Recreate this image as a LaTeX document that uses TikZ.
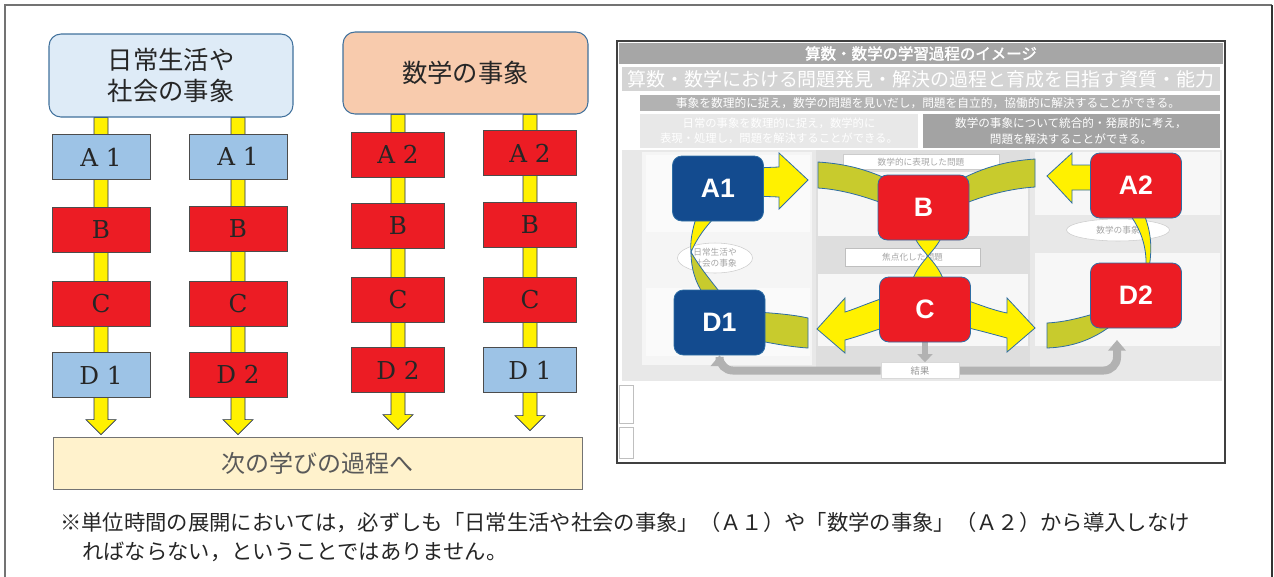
\documentclass[tikz,border=0pt]{standalone}
\usepackage{fontspec}
\usetikzlibrary{calc,arrows.meta,shapes.geometric}
\newfontfamily\jp{Noto Sans CJK JP}
\newfontfamily\jpbold{Noto Sans CJK JP}[FakeBold=2]
\newfontfamily\arl{Liberation Sans}
\newfontfamily\srf{DejaVu Serif}
\definecolor{cred}{HTML}{EC1C24}
\definecolor{clblue}{HTML}{9DC3E6}
\definecolor{cyel}{HTML}{FFF100}
\definecolor{cbarline}{HTML}{1F2D55}
\definecolor{ctop1}{HTML}{DEEBF7}
\definecolor{ctop2}{HTML}{F8CBAD}
\definecolor{ctopline}{HTML}{41719C}
\definecolor{cnext}{HTML}{FFF2CC}
\definecolor{cdblue}{HTML}{134B8F}
\definecolor{colive}{HTML}{C8CB2D}
\definecolor{cout}{HTML}{2E6DA4}
\pgfdeclarelayer{bg}\pgfdeclarelayer{mid}
\pgfsetlayers{bg,mid,main}
\def\pxu{0.75pt}
\newcommand\ybararrow[2]{\draw[ybarsty] ($(#1)+(-7,0)$) -- ($(#1)+(7,0)$) -- ($(#2)+(7,-15)$) -- ($(#2)+(15,-15)$) -- (#2) -- ($(#2)+(-15,-15)$) -- ($(#2)+(-7,-15)$) -- cycle;}
\tikzset{
  every node/.style={inner sep=0pt},
  colbox/.style={draw=black!70, line width=0.5pt, minimum height=45*\pxu, font=\srf\fontsize{18.5}{18.5}\selectfont, text=black!85},
  wA/.style={minimum width=98*\pxu},
  wB/.style={minimum width=93*\pxu},
  rbox/.style={colbox, fill=cred},
  bbox/.style={colbox, fill=clblue},
  topbox/.style={rounded corners=9pt, draw=ctopline, line width=0.8pt, font=\jp\fontsize{19}{23}\selectfont, text=black!85, align=center},
  ybarsty/.style={fill=cyel, draw=cbarline, line width=0.5pt, line join=miter},
  ov/.style={rounded corners=7pt, draw=cout, line width=0.6pt, minimum width=91*\pxu, minimum height=65*\pxu, text=white, font=\arl\bfseries\fontsize{20}{20}\selectfont},
  ovy/.style={fill=cyel, draw=cout, line width=0.6pt},
  ovo/.style={fill=colive, draw=cout, line width=0.6pt},
  gl/.style={draw=black!30, line width=8*\pxu},
  faint/.style={font=\jp\fontsize{6.5}{8}\selectfont, text=black!35, align=center},
}
\begin{document}
\begin{tikzpicture}[x=0.75pt,y=-0.75pt]
\useasboundingbox (0,0) rectangle (1274,576);
% outer frame
\draw[black!55, line width=0.8pt] (5,590) -- (5,5) -- (1272,5);
\draw[black!80, line width=0.8pt] (1272,5) -- (1272,590);

% ---------------- left panel ----------------
\node[topbox, fill=ctop1, minimum width=244*\pxu, minimum height=83*\pxu] (top1) at (171,75.5) {日常生活や\\社会の事象};
\node[topbox, fill=ctop2, minimum width=245*\pxu, minimum height=82*\pxu] (top2) at (465.5,73) {数学の事象};

\node[bbox, wA] (c1a) at (101,157) {A 1};
\node[rbox, wA] (c1b) at (101,229.5) {B};
\node[rbox, wA] (c1c) at (101,303.5) {C};
\node[bbox, wA] (c1d) at (101,375) {D 1};

\node[bbox, wA] (c2a) at (238,156.5) {A 1};
\node[rbox, wA] (c2b) at (238,229) {B};
\node[rbox, wA] (c2c) at (238,304) {C};
\node[rbox, wA] (c2d) at (238,374.5) {D 2};

\node[rbox, wB] (c3a) at (398,154.5) {A 2};
\node[rbox, wB] (c3b) at (398,225.5) {B};
\node[rbox, wB] (c3c) at (398,300) {C};
\node[rbox, wB] (c3d) at (398,370) {D 2};

\node[rbox, wB] (c4a) at (530,153) {A 2};
\node[rbox, wB] (c4b) at (530,224.5) {B};
\node[rbox, wB] (c4c) at (530,299.5) {C};
\node[bbox, wB] (c4d) at (530,370) {D 1};

\node[draw=black!55, fill=cnext, line width=0.6pt, minimum width=529*\pxu, minimum height=52*\pxu, font=\jp\fontsize{18}{18}\selectfont, text=black!65] (next) at (317.5,463) {次の学びの過程へ};

\coordinate (t1) at (top1.south -| c1a);
\coordinate (t2) at (top1.south -| c2a);
\coordinate (t3) at (top2.south -| c3a);
\coordinate (t4) at (top2.south -| c4a);
\coordinate (e1) at ($(next.north -| c1a)+(0,-2)$);
\coordinate (e2) at ($(next.north -| c2a)+(0,-2)$);
\coordinate (e3) at ($(next.north -| c3a)+(0,-7)$);
\coordinate (e4) at ($(next.north -| c4a)+(0,-6)$);
\begin{pgfonlayer}{bg}
\ybararrow{t1}{e1}
\ybararrow{t2}{e2}
\ybararrow{t3}{e3}
\ybararrow{t4}{e4}
\end{pgfonlayer}

% ---------------- note ----------------
\node[anchor=west, font=\jp\fontsize{16}{16}\selectfont, text=black!85] (note1) at (60,522) {※単位時間の展開においては，必ずしも「日常生活や社会の事象」（Ａ１）や「数学の事象」（Ａ２）から導入しなけ};
\node[anchor=west, font=\jp\fontsize{16}{16}\selectfont, text=black!85] (note2) at (82,552) {ればならない，ということではありません。};

% ---------------- right panel ----------------
\begin{pgfonlayer}{bg}
\draw[draw=black!75, line width=1.2pt, fill=white] (617,41) rectangle (1225,463);
\fill[black!35] (619,43) rectangle (1223,64);
\node[text=white, font=\jpbold\fontsize{11.6}{12}\selectfont] (h1) at (921,53.5) {算数・数学の学習過程のイメージ};
\fill[black!17] (622,67) rectangle (1220,91);
\node[text=white, font=\jp\fontsize{14.2}{15}\selectfont] (h2) at (921,79) {算数・数学における問題発見・解決の過程と育成を目指す資質・能力};
\fill[black!30] (640,95) rectangle (1220,111);
\node[text=white, font=\jp\fontsize{8.8}{9}\selectfont] (h3) at (928,103) {事象を数理的に捉え，数学の問題を見いだし，問題を自立的，協働的に解決することができる。};
\fill[black!9] (640,114) rectangle (918,148);
\node[text=white, font=\jp\fontsize{8.5}{11.5}\selectfont, align=center] (h4) at (779,131) {日常の事象を数理的に捉え，数学的に\\表現・処理し，問題を解決することができる。};
\fill[black!36] (923,114) rectangle (1220,148);
\node[text=white, font=\jp\fontsize{8.7}{11.5}\selectfont, align=center] (h5) at (1071,131) {数学の事象について統合的・発展的に考え，\\問題を解決することができる。};
% main area
\fill[black!9] (622,150) rectangle (1222,381);
\fill[black!4] (642,152) rectangle (812,365);
\fill[black!2] (646,155) rectangle (810,232);
\fill[black!2] (646,288) rectangle (810,356);
\fill[black!13] (816,150) rectangle (1030,368);
\fill[black!3] (818,172) rectangle (1028,236);
\fill[black!3] (818,274) rectangle (1028,346);
\fill[black!3] (1035,152) rectangle (1220,215);
\fill[black!3] (1035,253) rectangle (1220,346);
\node[fill=white, draw=black!20, minimum width=156*\pxu, minimum height=15*\pxu, faint] (p1) at (921,162) {数学的に表現した問題};
\node[fill=white, draw=black!25, minimum width=135*\pxu, minimum height=18*\pxu, faint] (p2) at (912.5,257) {焦点化した問題};
\node[ellipse, fill=white, draw=black!20, minimum width=75*\pxu, minimum height=30*\pxu, faint] (cl1) at (715,258) {日常生活や\\社会の事象};
\node[ellipse, fill=white, draw=black!20, minimum width=103*\pxu, minimum height=22*\pxu, faint] (cl2) at (1118,230) {数学の事象};
\draw[black!25, line width=0.6pt] (619,385) rectangle (633,423);
\draw[black!25, line width=0.6pt] (619,427) rectangle (633,458);
\end{pgfonlayer}

% overlay boxes
\node[ov, fill=cdblue] (A1) at (718,188.5) {A1};
\node[ov, fill=cred] (B) at (923.5,207.5) {B};
\node[ov, fill=cred] (A2) at (1136,185.5) {A2};
\node[ov, fill=cdblue] (D1) at (719.5,322.5) {D1};
\node[ov, fill=cred] (C) at (925,309.5) {C};
\node[ov, fill=cred] (D2) at (1136,295.5) {D2};
\node[fill=white, draw=black!15, minimum width=78*\pxu, minimum height=16*\pxu, font=\jp\fontsize{7}{7}\selectfont, text=black!40] (res) at (920,370.5) {結果};
\coordinate (d2in) at (1117,340);

\begin{pgfonlayer}{mid}
% gray loop
\draw[gl, rounded corners=10pt, -{Triangle[length=8pt,width=13pt]}] (res.west) -| (D1.south);
\draw[gl, rounded corners=10pt, -{Triangle[length=8pt,width=13pt]}] (res.east) -| (d2in);
\draw[gl, line width=6*\pxu, -{Triangle[length=6pt,width=11pt]}] (C.south) -- (C.south |- res.north);
% A1 right arrow
\draw[ovy] (755,168) -- (779,167) -- (779,153) -- (808,180) -- (779,209) -- (779,197) -- (755,196) -- cycle;
% A2 left arrow
\draw[ovy] (1100,165) -- (1072,165) -- (1072,153) -- (1047,176) -- (1072,203) -- (1072,190) -- (1100,190) -- cycle;
% olive bands to B
\draw[ovo] (818,162) .. controls (848,164) and (870,170) .. (900,185) -- (900,210) .. controls (875,200) and (848,190) .. (818,188) -- cycle;
\draw[ovo] (1035,159) .. controls (1005,161) and (980,168) .. (950,185) -- (950,210) .. controls (975,198) and (1005,189) .. (1035,187) -- cycle;
% B-C crossing
\draw[ovy] (914,236) .. controls (918,245) and (924,251) .. (928,256) .. controls (922,263) and (916,270) .. (912,281) -- (944,281) .. controls (940,270) and (934,263) .. (928,256) .. controls (932,251) and (938,245) .. (942,236) -- cycle;
% C arrows
\draw[ovy] (890,296) .. controls (870,302) and (858,308) .. (845,312) -- (845,298) -- (817,329) -- (845,353) -- (845,340) .. controls (860,336) and (875,330) .. (890,326) -- cycle;
\draw[ovy] (960,298) .. controls (978,304) and (992,310) .. (1007,313) -- (1007,298) -- (1035,328) -- (1007,352) -- (1007,338) .. controls (992,334) and (978,330) .. (960,326) -- cycle;
% olive bands at D1, D2
\draw[ovo] (755,312) .. controls (775,313) and (795,315) .. (808,318) -- (808,348) .. controls (792,347) and (775,344) .. (755,340) -- cycle;
\draw[ovo] (1047,323) .. controls (1065,322) and (1080,318) .. (1100,312) -- (1112,325) .. controls (1095,338) and (1075,347) .. (1047,348) -- cycle;
% A1-D1 ribbon
\draw[ovy] (697,215) .. controls (692,230) and (690,242) .. (691,252) .. controls (697,238) and (706,226) .. (717,215) -- cycle;
\draw[ovo] (691,252) .. controls (691,268) and (695,282) .. (704,295) -- (722,295) .. controls (712,282) and (700,268) .. (691,252) -- cycle;
% A2-D2 crescent
\draw[ovy] (1128,212) .. controls (1140,228) and (1147,245) .. (1146,268) -- (1149,268) .. controls (1153,245) and (1150,228) .. (1143,212) -- cycle;
\end{pgfonlayer}
\end{tikzpicture}
\end{document}
